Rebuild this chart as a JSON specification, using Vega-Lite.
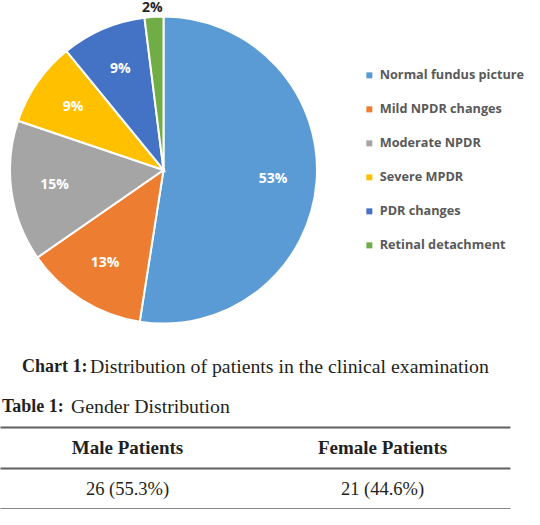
{
  "$schema": "https://vega.github.io/schema/vega-lite/v6.json",
  "padding": 0,
  "background": "white",
  "spacing": 5,
  "config": {"view": {"stroke": null}},
  "vconcat": [
    {
      "width": 327,
      "height": 340,
      "data": {
        "values": [
          {"category": "Normal fundus picture", "percent": 53, "label": "53%", "rank": 1},
          {"category": "Mild NPDR changes", "percent": 13, "label": "13%", "rank": 2},
          {"category": "Moderate NPDR", "percent": 15, "label": "15%", "rank": 3},
          {"category": "Severe MPDR", "percent": 9, "label": "9%", "rank": 4},
          {"category": "PDR changes", "percent": 9, "label": "9%", "rank": 5},
          {"category": "Retinal detachment", "percent": 2, "label": "2%", "rank": 6}
        ]
      },
      "encoding": {
        "theta": {"field": "percent", "type": "quantitative", "stack": true},
        "order": {"field": "rank", "type": "quantitative"}
      },
      "layer": [
        {
          "mark": {"type": "arc", "outerRadius": 153.5, "stroke": "white", "strokeWidth": 2},
          "encoding": {
            "color": {
              "field": "category",
              "type": "nominal",
              "scale": {
                "domain": ["Normal fundus picture", "Mild NPDR changes", "Moderate NPDR", "Severe MPDR", "PDR changes", "Retinal detachment"],
                "range": ["#5B9BD5", "#ED7D31", "#A5A5A5", "#FFC000", "#4472C4", "#70AD47"]
              },
              "legend": {
                "orient": "none",
                "legendX": 363,
                "legendY": 69,
                "title": null,
                "padding": 0,
                "symbolType": "square",
                "symbolSize": 36,
                "symbolStrokeWidth": 0,
                "labelFont": "Open Sans",
                "labelFontSize": 12.7,
                "labelFontWeight": "bold",
                "labelColor": "#595959",
                "labelOffset": 4,
                "rowPadding": 20,
                "labelLimit": 300
              }
            }
          }
        },
        {
          "mark": {"type": "text", "radius": 110, "font": "Open Sans", "fontWeight": "bold", "fontSize": 14},
          "encoding": {
            "color": {"value": "white"},
            "text": {"field": "label", "type": "nominal", "condition": {"test": "datum.percent < 5", "value": ""}}
          }
        },
        {
          "mark": {"type": "text", "radius": 162, "dx": -1, "font": "Open Sans", "fontWeight": "bold", "fontSize": 14},
          "encoding": {
            "color": {"value": "#262626"},
            "text": {"field": "label", "type": "nominal", "condition": {"test": "datum.percent >= 5", "value": ""}}
          }
        }
      ]
    },
    {
      "width": 510,
      "height": 164,
      "layer": [
        {
          "data": {
            "values": [
              {"gender": "Male Patients", "count": "26 (55.3%)"},
              {"gender": "Female Patients", "count": "21 (44.6%)"}
            ]
          },
          "layer": [
            {
              "mark": {"type": "text", "font": "Liberation Serif", "fontSize": 19, "fontWeight": "bold", "color": "#231f20"},
              "encoding": {
                "x": {
                  "field": "gender",
                  "type": "nominal",
                  "sort": null,
                  "scale": {"domain": ["Male Patients", "Female Patients"], "paddingInner": 0, "paddingOuter": 0},
                  "axis": {"title": null, "labels": false, "ticks": false, "grid": false, "domain": true, "domainColor": "#606060", "domainWidth": 2}
                },
                "y": {
                  "datum": "header",
                  "type": "nominal",
                  "scale": {"domain": ["caption", "title", "header", "value"], "paddingInner": 0, "paddingOuter": 0},
                  "axis": {
                    "title": null,
                    "labels": false,
                    "ticks": false,
                    "domain": false,
                    "grid": true,
                    "tickBand": "extent",
                    "gridColor": "#606060",
                    "gridWidth": 2,
                    "gridOpacity": {"condition": {"test": "datum.value === 'title' || datum.value === 'header' || datum.value === 'value'", "value": 1}, "value": 0}
                  }
                },
                "text": {"field": "gender", "type": "nominal"}
              }
            },
            {
              "mark": {"type": "text", "font": "Liberation Serif", "fontSize": 18.5, "color": "#231f20"},
              "encoding": {
                "x": {"field": "gender", "type": "nominal", "sort": null},
                "y": {"datum": "value", "type": "nominal"},
                "text": {"field": "count", "type": "nominal"}
              }
            }
          ]
        },
        {
          "data": {"values": [{"part": "Chart 1:"}]},
          "mark": {"type": "text", "align": "left", "dx": -233, "dy": 1, "font": "Liberation Serif", "fontSize": 18, "fontWeight": "bold", "color": "#231f20"},
          "encoding": {
            "y": {"datum": "caption", "type": "nominal"},
            "text": {"field": "part", "type": "nominal"}
          }
        },
        {
          "data": {"values": [{"part": "Distribution of patients in the clinical examination"}]},
          "mark": {"type": "text", "align": "left", "dx": -165, "dy": 1, "font": "Liberation Serif", "fontSize": 19.8, "color": "#231f20"},
          "encoding": {
            "y": {"datum": "caption", "type": "nominal"},
            "text": {"field": "part", "type": "nominal"}
          }
        },
        {
          "data": {"values": [{"part": "Table 1:"}]},
          "mark": {"type": "text", "align": "left", "dx": -253, "font": "Liberation Serif", "fontSize": 18, "fontWeight": "bold", "color": "#231f20"},
          "encoding": {
            "y": {"datum": "title", "type": "nominal"},
            "text": {"field": "part", "type": "nominal"}
          }
        },
        {
          "data": {"values": [{"part": "Gender Distribution"}]},
          "mark": {"type": "text", "align": "left", "dx": -184, "font": "Liberation Serif", "fontSize": 19.8, "color": "#231f20"},
          "encoding": {
            "y": {"datum": "title", "type": "nominal"},
            "text": {"field": "part", "type": "nominal"}
          }
        }
      ]
    }
  ]
}
